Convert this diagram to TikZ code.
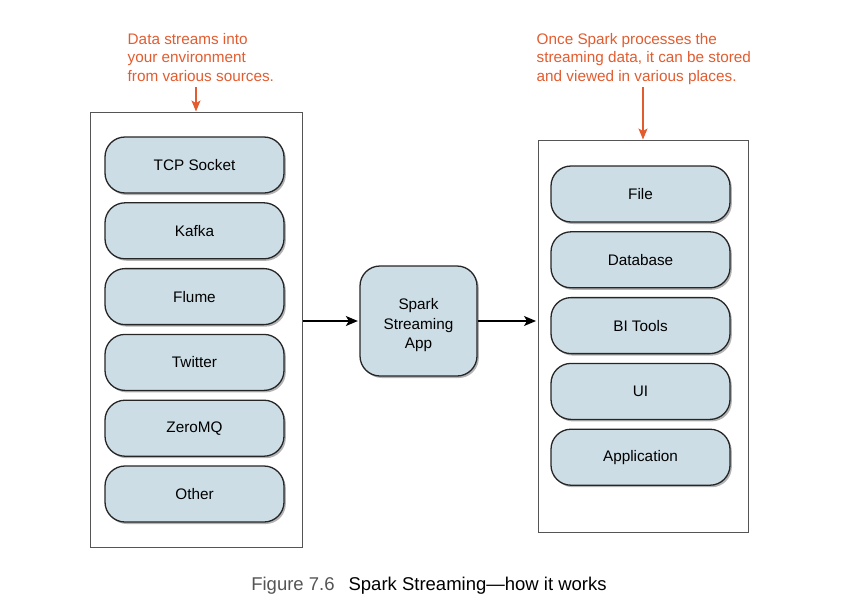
\documentclass[tikz,border=0pt]{standalone}
\usepackage{fontspec}
\setmainfont{Liberation Sans}
\usetikzlibrary{shadows,arrows.meta}

\definecolor{notecolor}{RGB}{226,92,48}
\definecolor{boxfill}{RGB}{204,221,229}
\definecolor{framegray}{RGB}{85,85,85}

\begin{document}
\begin{tikzpicture}[x=1pt,y=-1pt,
    item/.style={draw=black!85,line width=1.3pt,fill=boxfill,rounded corners=20pt,
        minimum width=179pt,minimum height=56pt,inner sep=0pt,
        font=\fontsize{15.3}{19.5}\selectfont,
        drop shadow={shadow xshift=1.8pt,shadow yshift=-2pt,opacity=0.6}},
    frame/.style={draw=framegray,line width=1pt,inner sep=0pt},
    note/.style={text=notecolor,align=left,inner sep=0pt,anchor=north west,
        font=\fontsize{15.3}{18.5}\selectfont},
    notearrow/.style={draw=notecolor,line width=1.3pt,-{Stealth[length=11pt,width=9pt,inset=2.5pt]}},
    flow/.style={line width=1.3pt,-{Stealth[length=12pt,width=10pt,inset=3pt]},shorten >=1.5pt}]
    \useasboundingbox(0,0)rectangle(848,608);

    % outer frames
    \node[frame,minimum width=212pt,minimum height=435pt](srcbox)at(196,329.5){};
    \node[frame,minimum width=210pt,minimum height=392pt](sinkbox)at(643,336){};

    % sources and sinks
    \foreach \name [count=\i from 0] in {TCP Socket,Kafka,Flume,Twitter,ZeroMQ,Other}
        \node[item](src\i)at(194.5,{165+65.8*\i}){\name};
    \foreach \name [count=\i from 0] in {File,Database,BI Tools,UI,Application}
        \node[item](sink\i)at(640.5,{194+65.8*\i}){\name};

    \node[item,minimum width=117pt,minimum height=110pt,align=center](app)at(418.5,321)
        {\rule{0pt}{20pt}Spark\\Streaming\\App};

    \draw[flow](srcbox.east|-app.west)--(app.west);
    \draw[flow](app.east)--(sinkbox.west|-app.east);

    % notes
    \node[note](note1)at(127.5,33){Data streams into\\your environment\\from various sources.};
    \node[note](note2)at(536.5,33){Once Spark processes the\\streaming data, it can be stored\\and viewed in various places.};
    \coordinate(n1)at(196,87);
    \coordinate(n2)at(643,87);
    \draw[notearrow](n1)--(srcbox.north);
    \draw[notearrow](n2)--(sinkbox.north);

    \node[font=\fontsize{18.5}{22}\selectfont,anchor=base](caption)at(429,590)
        {\textcolor{framegray}{Figure 7.6}\hspace{14pt}Spark Streaming---how it works};
\end{tikzpicture}
\end{document}
